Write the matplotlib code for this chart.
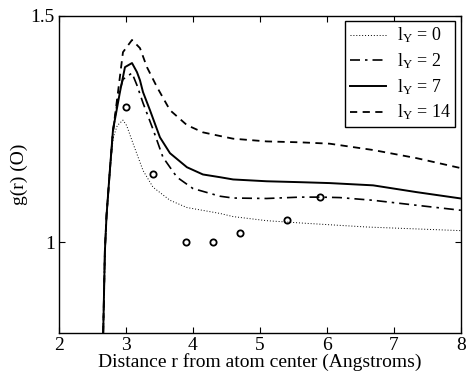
import numpy as np
import matplotlib
matplotlib.use("Agg")
from matplotlib import pyplot as plt

plt.rcParams['font.family'] = ['Liberation Serif', 'DejaVu Serif']
plt.rcParams['mathtext.fontset'] = 'stix'

# shared steep rise near the atom surface
r_rise = [2.66, 2.685, 2.71, 2.76]
g_rise = [0.80, 0.98, 1.06, 1.16]

r_l0 = r_rise + [2.81, 2.87, 2.955, 3.01, 3.104, 3.254, 3.403, 3.657, 3.91, 4.403, 4.6, 5.1, 5.6, 6.04, 6.6, 7.3, 8.0]
g_l0 = g_rise + [1.232, 1.258, 1.270, 1.258, 1.219, 1.159, 1.122, 1.093, 1.077, 1.064, 1.057, 1.048, 1.043, 1.039, 1.034, 1.030, 1.026]

r_l2 = r_rise + [2.806, 2.88, 2.955, 3.09, 3.164, 3.254, 3.403, 3.552, 3.761, 4.0, 4.403, 4.6, 5.1, 5.6, 5.9, 6.19, 6.69, 7.34, 8.0]
g_l2 = g_rise + [1.245, 1.32, 1.36, 1.374, 1.347, 1.308, 1.25, 1.188, 1.144, 1.119, 1.102, 1.098, 1.097, 1.100, 1.100, 1.099, 1.093, 1.082, 1.071]

r_l7 = r_rise + [2.806, 2.91, 2.985, 3.09, 3.164, 3.209, 3.254, 3.358, 3.507, 3.657, 3.91, 4.149, 4.403, 4.6, 5.1, 5.6, 6.04, 6.69, 7.34, 8.0]
g_l7 = g_rise + [1.248, 1.332, 1.387, 1.396, 1.376, 1.358, 1.332, 1.292, 1.232, 1.197, 1.166, 1.150, 1.144, 1.139, 1.135, 1.133, 1.131, 1.126, 1.111, 1.097]

r_l14 = r_rise + [2.806, 2.881, 2.955, 3.09, 3.209, 3.313, 3.463, 3.657, 3.91, 4.149, 4.403, 4.6, 5.1, 5.6, 6.04, 6.69, 7.34, 8.0]
g_l14 = g_rise + [1.245, 1.332, 1.420, 1.447, 1.429, 1.387, 1.343, 1.292, 1.259, 1.243, 1.235, 1.229, 1.223, 1.221, 1.218, 1.204, 1.186, 1.164]

r_pts = [3.0, 3.4, 3.9, 4.3, 4.7, 5.4, 5.9]
g_pts = [1.30, 1.15, 1.00, 1.00, 1.02, 1.05, 1.10]

fig = plt.figure(figsize=(4.66, 3.77), dpi=100)
ax = fig.add_axes([0.1266, 0.1167, 0.8624, 0.841])

ax.plot(r_l0, g_l0, color='black', lw=0.7, linestyle=(0, (1, 2)), label=r'l$_{\mathregular{Y}}$ = 0')
ax.plot(r_l2, g_l2, color='black', lw=1.2, linestyle=(0, (6, 3, 1.5, 3)), label=r'l$_{\mathregular{Y}}$ = 2')
ax.plot(r_l7, g_l7, color='black', lw=1.4, linestyle='-', label=r'l$_{\mathregular{Y}}$ = 7')
ax.plot(r_l14, g_l14, color='black', lw=1.3, linestyle=(0, (4, 3)), label=r'l$_{\mathregular{Y}}$ = 14')
ax.plot(r_pts, g_pts, 'o', mfc='none', mec='black', ms=4.5, mew=1.3)

ax.set_xlim(2, 8)
ax.set_ylim(0.8, 1.5)
ax.set_xticks([2, 3, 4, 5, 6, 7, 8])
ax.set_yticks([1, 1.5])
ax.set_yticklabels(['1', '1.5'])
ax.tick_params(direction='in', top=True, right=True, length=4, labelsize=14, pad=3)
for s in ax.spines.values():
    s.set_linewidth(1.0)

ax.set_xlabel('Distance r from atom center (Angstroms)', fontsize=14, labelpad=-1)
ax.set_ylabel('g(r) (O)', fontsize=14, labelpad=2)

leg = ax.legend(loc='upper right', fontsize=13, fancybox=False, edgecolor='black',
                framealpha=1, borderpad=0.25, labelspacing=0.35, handlelength=2.0,
                handletextpad=0.6, borderaxespad=0.3)
leg.get_frame().set_linewidth(1.0)

fig.savefig('out.png', dpi=100)
